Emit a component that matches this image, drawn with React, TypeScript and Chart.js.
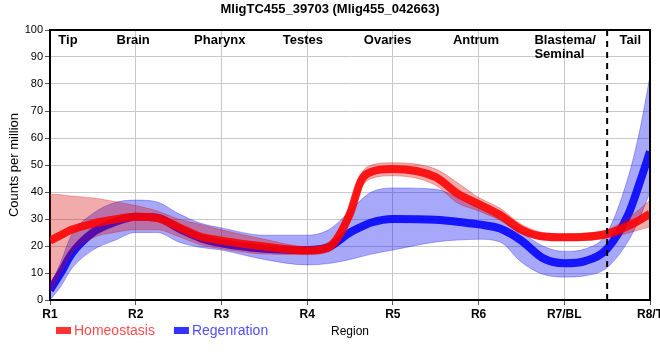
import React, { useEffect, useRef } from "react";
import { Chart, registerables } from "chart.js";

Chart.register(...registerables);

// ---- data ----
const chartTitle = "MligTC455_39703 (Mlig455_042663)";
const xTickLabels = ["R1", "R2", "R3", "R4", "R5", "R6", "R7/BL", "R8/T"];
const regionNames = ["Tip", "Brain", "Pharynx", "Testes", "Ovaries", "Antrum", "Blastema/\nSeminal", "Tail"];
const legendLabels = ["Homeostasis", "Regenration"];

const xs = [1, 1.125, 1.25, 1.5, 1.75, 2, 2.25, 2.5, 2.75, 3, 3.5, 4, 4.25, 4.5, 4.625, 4.75, 5, 5.5, 5.75, 6, 6.25, 6.5, 6.75, 7, 7.25, 7.5, 7.75, 7.875, 8];

const homeoMean = [22, 24, 26, 28.3, 29.8, 30.8, 30.3, 27, 23.5, 22, 19.8, 18.3, 19.5, 32, 44, 47.5, 48.5, 45.5, 39.5, 35.5, 31.5, 26, 23.5, 23.2, 23.4, 24.5, 27.5, 29.5, 32];
const homeoUpper = [39.2, 39, 38.5, 37.8, 36.5, 35, 33, 30, 28, 26, 22.5, 19.8, 21.5, 35, 46.5, 50, 50.8, 48.5, 43.5, 38, 34, 28, 25, 24.5, 24.8, 26, 30.5, 33.5, 37];
const homeoLower = [3, 10, 17, 23, 25, 26, 26, 23.5, 20.5, 19, 17, 16.8, 17.8, 29, 41, 45, 46, 42.5, 36, 33, 29.5, 24.5, 22.3, 22, 22, 23, 24.8, 26, 27];

const regenMean = [3.7, 10, 17, 25, 28.8, 30.8, 30.5, 26.5, 23, 21, 19, 18.5, 19.5, 25, 27, 28.7, 30, 29.7, 29, 28, 26.5, 22, 15.5, 13.6, 14.5, 19, 32, 43, 55];
const regenUpper = [5, 14, 24, 32, 36, 37, 36.3, 32, 28.5, 26.7, 24, 24, 26, 33, 37, 40, 41.5, 41, 38, 34, 30, 25, 20, 18, 19, 25, 46, 62, 83];
const regenLower = [0, 5, 11.5, 18.5, 22, 25, 25, 21.5, 19.5, 18.5, 15, 13, 13.5, 15, 16, 17, 18.5, 21.5, 22.2, 22.5, 21.5, 14, 9.5, 8.5, 9, 12, 22, 30, 40];

const boundaryX = 7.5;
// ----------------------------------------

const regionLabelX = [1.21, 1.97, 2.98, 3.95, 4.94, 5.97, 7.01, 7.77];
const FONT = "'Liberation Sans', Arial, Helvetica, sans-serif";

const pts = (ys: number[]) => xs.map((x, i) => ({ x, y: ys[i] }));

const overlayPlugin = {
  id: "overlay",
  afterDatasetsDraw(chart: any) {
    const { ctx, chartArea, scales } = chart;
    const xScale = scales.x;
    ctx.save();
    const bx = xScale.getPixelForValue(boundaryX);
    ctx.strokeStyle = "#000";
    ctx.lineWidth = 2;
    ctx.setLineDash([6, 5]);
    ctx.beginPath();
    ctx.moveTo(bx, chartArea.top);
    ctx.lineTo(bx, chartArea.bottom + 5);
    ctx.stroke();
    ctx.setLineDash([]);
    ctx.beginPath();
    ctx.moveTo(chartArea.left, chartArea.top);
    ctx.lineTo(chartArea.right, chartArea.top);
    ctx.lineTo(chartArea.right, chartArea.bottom);
    ctx.stroke();
    ctx.fillStyle = "#000";
    ctx.font = `bold 13px ${FONT}`;
    ctx.textBaseline = "middle";
    regionNames.forEach((name, i) => {
      const cx = xScale.getPixelForValue(regionLabelX[i]);
      const lines = name.split("\n");
      if (lines.length > 1) {
        const w = Math.max(...lines.map((l) => ctx.measureText(l).width));
        ctx.textAlign = "left";
        lines.forEach((l, j) => ctx.fillText(l, cx - w / 2, chartArea.top + 10 + j * 14));
      } else {
        ctx.textAlign = "center";
        ctx.fillText(name, cx, chartArea.top + 10);
      }
    });
    ctx.restore();
  },
  afterDraw(chart: any) {
    const { ctx } = chart;
    ctx.save();
    ctx.fillStyle = "#000";
    ctx.font = `bold 13px ${FONT}`;
    ctx.textAlign = "center";
    ctx.textBaseline = "middle";
    ctx.fillText(chartTitle, 330, 9);
    const items = [
      { text: legendLabels[0], box: "#ff3333", color: "#ff4d4d" },
      { text: legendLabels[1], box: "#3333ff", color: "#5050ff" },
    ];
    ctx.font = `14px ${FONT}`;
    ctx.textAlign = "left";
    let x = 56;
    items.forEach((it) => {
      ctx.fillStyle = it.box;
      ctx.fillRect(x, 327, 15, 7);
      ctx.fillStyle = it.color;
      ctx.fillText(it.text, x + 18, 331);
      x += 18 + ctx.measureText(it.text).width + 19;
    });
    ctx.restore();
  },
};

export default function App() {
  const ref = useRef<HTMLCanvasElement | null>(null);
  useEffect(() => {
    document.body.style.margin = "0";
    if (!ref.current) return;
    const line = (label: string, data: number[], color: string) => ({
      label,
      data: pts(data),
      borderColor: color,
      backgroundColor: color,
      borderWidth: 8,
      pointRadius: 0,
      fill: false,
      cubicInterpolationMode: "monotone",
    });
    const band = (label: string, data: number[], color: string, edge: string, fill: any) => ({
      label,
      data: pts(data),
      borderColor: edge,
      backgroundColor: color,
      borderWidth: 1,
      pointRadius: 0,
      fill,
      cubicInterpolationMode: "monotone",
    });
    const chart = new Chart(ref.current, {
      type: "line",
      data: {
        datasets: [
          line("Homeostasis", homeoMean, "rgba(255,0,0,0.88)"),
          band("hUpper", homeoUpper, "rgba(215,0,0,0.33)", "rgba(215,0,0,0.3)", "+1"),
          band("hLower", homeoLower, "rgba(215,0,0,0.33)", "rgba(215,0,0,0.3)", false),
          line("Regenration", regenMean, "rgba(0,0,255,0.88)"),
          band("rUpper", regenUpper, "rgba(0,0,240,0.34)", "rgba(0,0,240,0.3)", "+1"),
          band("rLower", regenLower, "rgba(0,0,240,0.34)", "rgba(0,0,240,0.3)", false),
        ] as any,
      },
      options: {
        responsive: false,
        animation: false,
        devicePixelRatio: 1,
        layout: { padding: { top: 30, right: 10, left: 0, bottom: 0 } },
        plugins: {
          legend: { display: false },
          tooltip: { enabled: false },
          title: { display: false },
        },
        scales: {
          x: {
            type: "linear",
            min: 1,
            max: 8,
            ticks: {
              stepSize: 1,
              color: "#000",
              font: { family: FONT, size: 12, weight: "bold" },
              padding: 2,
              maxRotation: 0,
              autoSkip: false,
              callback: (v: any) => xTickLabels[Math.round(v) - 1] ?? "",
            },
            grid: { color: "#c8c8c8", lineWidth: 1, tickLength: 5, tickColor: "#555" },
            border: { color: "#000", width: 2 },
            title: {
              display: true,
              text: "Region",
              color: "#000",
              font: { family: FONT, size: 12 },
              padding: { top: 0, bottom: 21 },
            },
            afterFit: (s: any) => {
              s.height = 60;
              s.paddingLeft = 0;
              s.paddingRight = 0;
            },
          },
          y: {
            min: 0,
            max: 100,
            ticks: {
              stepSize: 10,
              color: "#000",
              font: { family: FONT, size: 11 },
              padding: 2,
            },
            grid: { color: "#c8c8c8", lineWidth: 1, tickLength: 5, tickColor: "#555" },
            border: { color: "#000", width: 2 },
            title: {
              display: true,
              text: "Counts per million",
              color: "#000",
              font: { family: FONT, size: 13 },
              padding: { top: 7, bottom: 0 },
            },
            afterFit: (s: any) => {
              s.width = 50;
              s.paddingTop = 0;
              s.paddingBottom = 0;
            },
          },
        },
      } as any,
      plugins: [overlayPlugin],
    });
    return () => chart.destroy();
  }, []);
  return (
    <div style={{ width: 660, height: 360 }}>
      <canvas ref={ref} width={660} height={360} />
    </div>
  );
}
